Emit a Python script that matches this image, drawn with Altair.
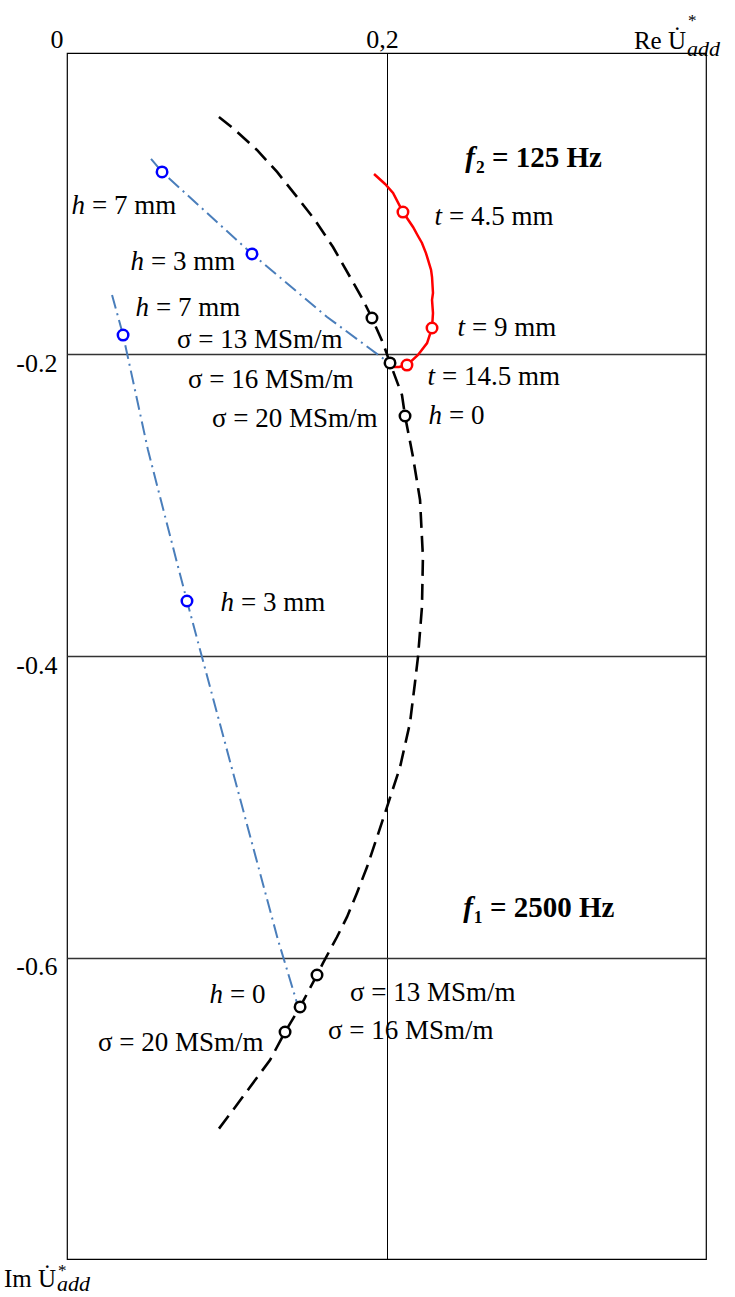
import altair as alt
import pandas as pd

FONT = "Liberation Serif"

# ---- data (Re, Im) ----
sigma_re = [0.0951, 0.1039, 0.1189, 0.1315, 0.1440, 0.1552, 0.1665, 0.1772, 0.1853, 0.1909,
            0.1978, 0.2022, 0.2097, 0.2116, 0.2166, 0.2210, 0.2228, 0.2222, 0.2197, 0.2178,
            0.2147, 0.2085, 0.2003, 0.1941, 0.1878, 0.1815, 0.1753, 0.1690, 0.1603, 0.1565,
            0.1459, 0.1365, 0.1271, 0.1146, 0.1039, 0.0945]
sigma_im = [-0.0425, -0.0498, -0.0643, -0.0789, -0.0955, -0.1108, -0.1287, -0.1486, -0.1638, -0.1758,
            -0.1924, -0.2056, -0.2269, -0.2408, -0.2680, -0.2965, -0.3343, -0.3675, -0.4007, -0.4179,
            -0.4444, -0.4736, -0.5002, -0.5201, -0.5400, -0.5572, -0.5731, -0.5864, -0.6036, -0.6116,
            -0.6328, -0.6494, -0.6680, -0.6859, -0.7012, -0.7144]
sigma_pts_re = [0.1909, 0.2022, 0.2116, 0.1565, 0.1459, 0.1365]
sigma_pts_im = [-0.1758, -0.2056, -0.2408, -0.6116, -0.6328, -0.6494]

t_re = [0.1922, 0.1991, 0.2041, 0.2103, 0.2166, 0.2197, 0.2222, 0.2247, 0.2260, 0.2279,
        0.2285, 0.2291, 0.2285, 0.2291, 0.2285, 0.2254, 0.2197, 0.2128, 0.2078, 0.2041]
t_im = [-0.0803, -0.0869, -0.0929, -0.1055, -0.1154, -0.1214, -0.1260, -0.1327, -0.1373, -0.1439,
        -0.1486, -0.1592, -0.1638, -0.1725, -0.1824, -0.1924, -0.2003, -0.2070, -0.2083, -0.2083]
t_pts_re = [0.2103, 0.2285, 0.2128]
t_pts_im = [-0.1055, -0.1824, -0.2070]

h2_re = [0.0526, 0.0595, 0.1158, 0.1628, 0.2009, 0.2022]
h2_im = [-0.0703, -0.0789, -0.1333, -0.1751, -0.2050, -0.2056]
h1_re = [0.0282, 0.0351, 0.0507, 0.0689, 0.0751, 0.0845, 0.1321, 0.1440, 0.1459]
h1_im = [-0.1605, -0.1871, -0.2634, -0.3383, -0.3635, -0.4007, -0.5884, -0.6302, -0.6328]
h_pts_re = [0.0595, 0.1158, 0.0351, 0.0751]
h_pts_im = [-0.0789, -0.1333, -0.1871, -0.3635]

# labels with an italic variable
var_names = ["h", "h", "h", "h", "t", "t", "t", "h", "h"]
var_rest = ["= 7 mm", "= 3 mm", "= 7 mm", "= 0", "= 4.5 mm", "= 9 mm", "= 14.5 mm", "= 3 mm", "= 0"]
var_re = [0.01127, 0.04820, 0.05133, 0.23474, 0.23474, 0.24914, 0.23036, 0.10454, 0.09765]
var_im = [-0.10680, -0.14395, -0.17446, -0.24610, -0.11410, -0.18773, -0.22023, -0.37015, -0.63018]

sig_text = ["σ = 13 MSm/m", "σ = 16 MSm/m", "σ = 20 MSm/m",
            "σ = 13 MSm/m", "σ = 16 MSm/m", "σ = 20 MSm/m"]
sig_re = [0.06886, 0.07574, 0.09077, 0.17715, 0.16338, 0.01941]
sig_im = [-0.19569, -0.22222, -0.24809, -0.62886, -0.65406, -0.66202]

freq_rest = ["₂ = 125 Hz", "₁ = 2500 Hz"]
freq_re = [0.25540, 0.25415]
freq_im = [-0.07562, -0.57313]

top_ticks = ["0", "0,2"]
top_ticks_re = [0.0, 0.2]
top_ticks_im = [0.00332, 0.00332]
top_ticks_dx = [-10, -4]

# ---- scales ----
xs = alt.Scale(domain=[0, 0.4], nice=False, zero=False)
ys = alt.Scale(domain=[-0.8, 0], nice=False, zero=False)
X = alt.X("re:Q", scale=xs, axis=alt.Axis(values=[0.2], grid=True, labels=False, ticks=False,
                                            domain=False, title=None, orient="top",
                                            gridColor="black", gridOpacity=1, gridWidth=1))
Y = alt.Y("im:Q", scale=ys, axis=alt.Axis(values=[-0.2, -0.4, -0.6], grid=True, ticks=False,
                                            domain=False, title=None,
                                            labelExpr="'-' + format(abs(datum.value), '.1f')",
                                            labelFont=FONT, labelFontSize=26, labelColor="black",
                                            labelBaseline="middle", labelOffset=9, labelPadding=10,
                                            gridColor="#333333", gridOpacity=1, gridWidth=1.3))


def df(re, im, **extra):
    d = pd.DataFrame({"re": re, "im": im, "i": list(range(len(re)))})
    for k, v in extra.items():
        d[k] = v
    return d


sigma_line = alt.Chart(df(sigma_re, sigma_im)).mark_line(
    color="black", strokeWidth=2.6, strokeDash=[16, 8]).encode(x=X, y=Y, order="i:Q")
h2_line = alt.Chart(df(h2_re, h2_im)).mark_line(
    color="#4a7ebb", strokeWidth=2, strokeDash=[14, 5, 2, 5]).encode(x=X, y=Y, order="i:Q")
h1_line = alt.Chart(df(h1_re, h1_im)).mark_line(
    color="#4a7ebb", strokeWidth=2, strokeDash=[14, 5, 2, 5]).encode(x=X, y=Y, order="i:Q")
t_line = alt.Chart(df(t_re, t_im)).mark_line(
    color="#ff0000", strokeWidth=2.5).encode(x=X, y=Y, order="i:Q")

def pts(re, im, col):
    return alt.Chart(df(re, im)).mark_circle(
        fill="white", stroke=col, strokeWidth=2.5, size=110, opacity=1).encode(x=X, y=Y)

sigma_p = pts(sigma_pts_re, sigma_pts_im, "black")
t_p = pts(t_pts_re, t_pts_im, "#ff0000")
h_p = pts(h_pts_re, h_pts_im, "#0000ff")

FS = 27
var_df = df(var_re, var_im, name=var_names, rest=var_rest)
var_it = alt.Chart(var_df).mark_text(font=FONT, fontSize=FS, fontStyle="italic", align="right",
                                     baseline="alphabetic", color="black").encode(x=X, y=Y, text="name:N")
var_rt = alt.Chart(var_df).mark_text(font=FONT, fontSize=FS, align="left", dx=7,
                                     baseline="alphabetic", color="black").encode(x=X, y=Y, text="rest:N")
sig_t = alt.Chart(df(sig_re, sig_im, txt=sig_text)).mark_text(
    font=FONT, fontSize=FS, align="left", baseline="alphabetic", color="black").encode(x=X, y=Y, text="txt:N")

freq_df = df(freq_re, freq_im, rest=freq_rest, f=["f", "f"])
freq_f = alt.Chart(freq_df).mark_text(font=FONT, fontSize=29, fontWeight="bold", fontStyle="italic",
                                      align="right", baseline="alphabetic", color="black").encode(x=X, y=Y, text="f:N")
freq_r = alt.Chart(freq_df).mark_text(font=FONT, fontSize=29, fontWeight="bold", align="left", dx=1,
                                      baseline="alphabetic", color="black").encode(x=X, y=Y, text="rest:N")

tick_df = df(top_ticks_re, top_ticks_im, txt=top_ticks)
tick_layers = [
    alt.Chart(tick_df.iloc[[k]]).mark_text(font=FONT, fontSize=26, align="center", baseline="alphabetic",
                                           color="black", dx=int(top_ticks_dx[k])).encode(x=X, y=Y, text="txt:N")
    for k in range(2)
]

# axis titles "Re U̇*add" and "Im U̇*add"
split_re = [0.38748, -0.00689]
title_main = alt.Chart(df(split_re, [0.00265, -0.81857], txt=["Re U\u0307", "Im U\u0307"])).mark_text(
    font=FONT, fontSize=25, align="right", baseline="alphabetic", color="black").encode(x=X, y=Y, text="txt:N")
title_star = alt.Chart(df(split_re, [0.01790, -0.81128], txt=["*", "*"])).mark_text(
    font=FONT, fontSize=17, align="left", baseline="alphabetic", color="black", dx=2).encode(x=X, y=Y, text="txt:N")
title_sub = alt.Chart(df(split_re, [-0.00199, -0.82123], txt=["add", "add"])).mark_text(
    font=FONT, fontSize=22, fontStyle="italic", align="left", baseline="alphabetic", color="black", dx=1).encode(
    x=X, y=Y, text="txt:N")

chart = alt.layer(
    sigma_line, h2_line, h1_line, t_line, sigma_p, t_p, h_p,
    var_it, var_rt, sig_t, freq_f, freq_r, *tick_layers, title_main, title_star, title_sub
).properties(
    width=639, height=1206,
    autosize=alt.AutoSizeParams(type="none"),
    padding={"left": 67, "top": 53, "right": 29, "bottom": 38},
    background="white",
).configure_view(stroke="black", strokeWidth=1.2)

chart.save("out.html", embed_options={"renderer": "svg", "actions": False})
